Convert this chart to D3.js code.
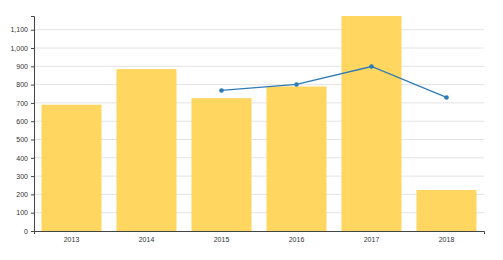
<!DOCTYPE html>
<html>
<head>
<meta charset="utf-8">
<script src="https://cdn.jsdelivr.net/npm/d3@7"></script>
<style>
  body { margin: 0; background: #fff; }
  svg text { font-family: "Liberation Sans", Arial, sans-serif; }
</style>
</head>
<body>
<svg id="chart" width="503" height="260"></svg>
<script>
const years = ['2013', '2014', '2015', '2016', '2017', '2018']
const barValues = [690, 885, 726, 790, 1175, 224]
const lineYears = ['2015', '2016', '2017', '2018']
const lineValues = [768, 801, 899, 730]
const yTicks = [0, 100, 200, 300, 400, 500, 600, 700, 800, 900, 1000, 1100]

const margin = { top: 16, right: 19, bottom: 29, left: 34 }
const width = 503 - margin.left - margin.right
const height = 260 - margin.top - margin.bottom

const svg = d3.select('#chart')
const g = svg.append('g')
  .attr('transform', `translate(${margin.left},${margin.top})`)

const x = d3.scaleBand()
  .domain(years)
  .range([0, width])
  .paddingInner(0.2)
  .paddingOuter(0.1)

const y = d3.scaleLinear()
  .domain([0, d3.max(barValues)])
  .range([height, 0])

// gridlines
g.append('g')
  .selectAll('line')
  .data(yTicks.slice(1))
  .enter().append('line')
    .attr('x1', 0)
    .attr('x2', width)
    .attr('y1', d => y(d))
    .attr('y2', d => y(d))
    .attr('stroke', '#e3e3e3')
    .attr('stroke-width', 1)

// bars
g.append('g')
  .selectAll('rect')
  .data(years)
  .enter().append('rect')
    .attr('x', d => x(d))
    .attr('width', x.bandwidth())
    .attr('y', (d, i) => y(barValues[i]))
    .attr('height', (d, i) => height - y(barValues[i]))
    .attr('fill', '#ffd65f')

// line
const pts = lineYears.map((d, i) => [x(d) + x.bandwidth() / 2, y(lineValues[i])])
g.append('path')
  .datum(pts)
  .attr('fill', 'none')
  .attr('stroke', '#2e7bb6')
  .attr('stroke-width', 1.3)
  .attr('d', d3.line())

g.append('g')
  .selectAll('circle')
  .data(pts)
  .enter().append('circle')
    .attr('cx', d => d[0])
    .attr('cy', d => d[1])
    .attr('r', 2.3)
    .attr('fill', '#2e7bb6')

// axes
const xAxis = g.append('g')
  .attr('transform', `translate(0,${height})`)
  .call(d3.axisBottom(x).tickSize(0).tickSizeOuter(3).tickPadding(6))
const yAxis = g.append('g')
  .call(d3.axisLeft(y).tickValues(yTicks).tickFormat(d3.format(',')).tickSize(3).tickSizeOuter(3).tickPadding(3))

;[xAxis, yAxis].forEach(a => {
  a.select('.domain').attr('stroke', '#444')
  a.selectAll('.tick line').attr('stroke', '#444')
  a.selectAll('text').attr('fill', '#333').style('font-size', '7px')
})
</script>
</body>
</html>
